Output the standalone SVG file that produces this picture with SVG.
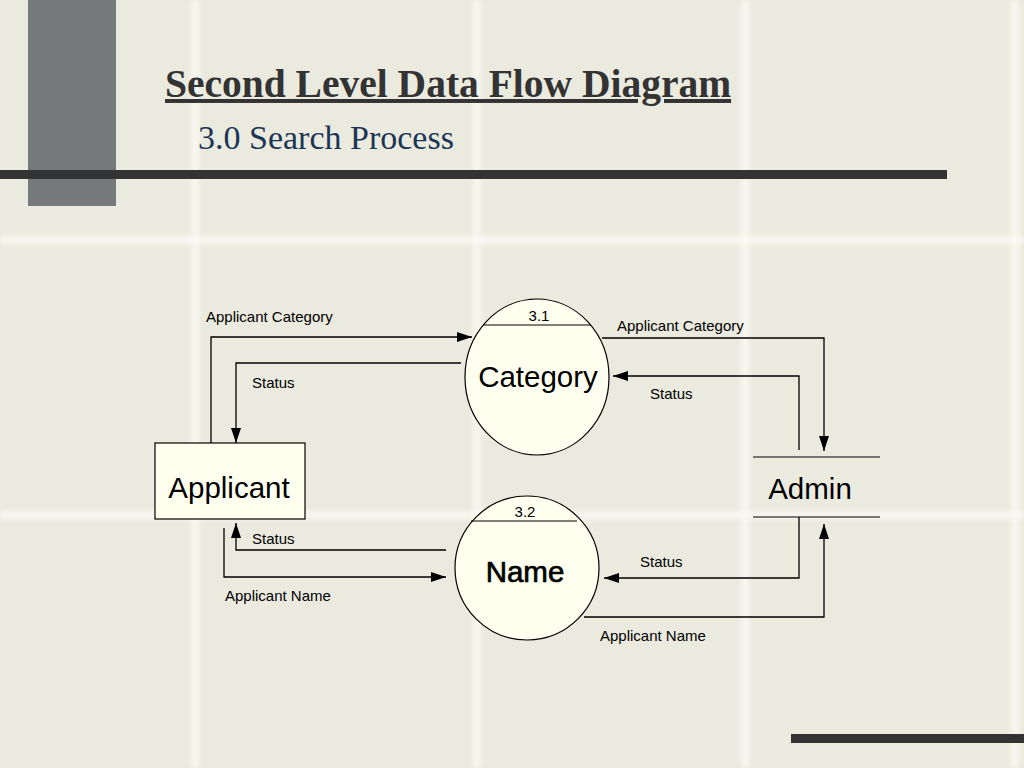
<svg xmlns="http://www.w3.org/2000/svg" width="1024" height="768" viewBox="0 0 1024 768">
<defs>
<filter id="blur" x="-50%" y="-50%" width="200%" height="200%"><feGaussianBlur stdDeviation="2.5"/></filter>
<marker id="arr" viewBox="0 0 15 10" refX="15" refY="5" markerWidth="15" markerHeight="10" markerUnits="userSpaceOnUse" orient="auto"><path d="M0,0 L15,5 L0,10 Z" fill="#000"/></marker>
<style>
.grid{fill:#fafaf4;opacity:0.85;filter:url(#blur)}
.conn{fill:none;stroke:#000;stroke-width:1.3;marker-end:url(#arr)}
.lbl{font-family:"Liberation Sans",Arial,sans-serif;font-size:15px;fill:#000}
.big{font-family:"Liberation Sans",Arial,sans-serif;font-size:29.5px;fill:#000;text-anchor:middle}
.num{font-family:"Liberation Sans",Arial,sans-serif;font-size:15px;fill:#000;text-anchor:middle}
.proc{fill:#fffff0;stroke:#000;stroke-width:1.2}
</style>
</defs>
<rect width="1024" height="768" fill="#eaeadf"/>
<g id="background">
<rect class="grid" x="191" y="0" width="8" height="768"/>
<rect class="grid" x="473" y="0" width="8" height="768"/>
<rect class="grid" x="741" y="0" width="8" height="768"/>
<rect class="grid" x="1011" y="0" width="8" height="768"/>
<rect class="grid" x="0" y="236" width="1024" height="8"/>
<rect class="grid" x="0" y="511" width="1024" height="8"/>
<rect x="28" y="0" width="88" height="206" fill="#76797c"/>
<rect x="0" y="170" width="947" height="9" fill="#333333"/>
<rect x="791" y="734" width="233" height="9" fill="#333333"/>
</g>
<g id="title">
<text x="165" y="97" font-family="'Liberation Serif','Times New Roman',serif" font-weight="bold" font-size="39.5" fill="#333333" text-decoration="underline">Second Level Data Flow Diagram</text>
<text x="198" y="149" font-family="'Liberation Serif','Times New Roman',serif" font-size="34" fill="#1c3555">3.0 Search Process</text>
</g>
<g id="connectors">
<polyline class="conn" points="211,443 211,337 472,337"/>
<polyline class="conn" points="461,363 236,363 236,443"/>
<polyline class="conn" points="602,338 824,338 824,451"/>
<polyline class="conn" points="799,450 799,376 613,376"/>
<polyline class="conn" points="446,550 236,550 236,523"/>
<polyline class="conn" points="224,528 224,577 446,577"/>
<polyline class="conn" points="799,517 799,578 604,578"/>
<polyline class="conn" points="584,617 824,617 824,524"/>
<text class="lbl" x="206" y="322">Applicant Category</text>
<text class="lbl" x="252" y="388">Status</text>
<text class="lbl" x="617" y="331">Applicant Category</text>
<text class="lbl" x="650" y="399">Status</text>
<text class="lbl" x="252" y="544">Status</text>
<text class="lbl" x="225" y="601">Applicant Name</text>
<text class="lbl" x="640" y="567">Status</text>
<text class="lbl" x="600" y="641">Applicant Name</text>
</g>
<g id="process-3-1">
<ellipse class="proc" cx="537" cy="377" rx="72" ry="78"/>
<line x1="483" y1="325" x2="591" y2="325" stroke="#000" stroke-width="1.2"/>
<text class="num" x="539" y="321">3.1</text>
<text class="big" x="538" y="387">Category</text>
</g>
<g id="process-3-2">
<ellipse class="proc" cx="527" cy="568" rx="72" ry="72"/>
<line x1="471" y1="521" x2="577" y2="521" stroke="#000" stroke-width="1.2"/>
<text class="num" x="525" y="517">3.2</text>
<text class="big" x="525" y="582" font-size="29" stroke="#000" stroke-width="0.7">Name</text>
</g>
<g id="applicant">
<rect x="155" y="443" width="150" height="76" fill="#fffff0" stroke="#000" stroke-width="1.2"/>
<text class="big" x="229" y="498">Applicant</text>
</g>
<g id="admin">
<line x1="753" y1="457" x2="880" y2="457" stroke="#000" stroke-width="1.2"/>
<line x1="753" y1="517" x2="880" y2="517" stroke="#000" stroke-width="1.2"/>
<text class="big" x="810" y="499">Admin</text>
</g>
</svg>
